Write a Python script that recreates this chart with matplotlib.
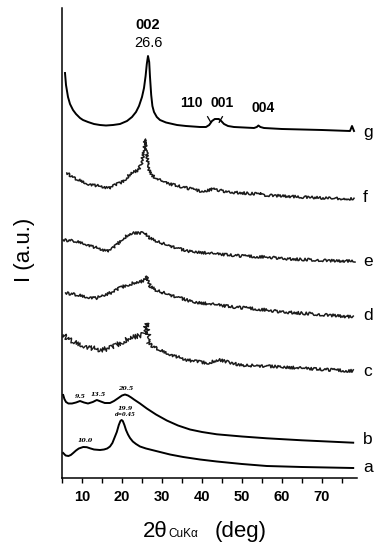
import matplotlib
matplotlib.use("Agg")
import matplotlib.pyplot as plt

# ---- data (intensity in arbitrary units) ----
BASE = 478  # conversion helper: value = BASE - pixel row

g_x = [5.75, 6.0, 6.5, 7.0, 7.75, 8.5, 9.5, 10.25, 11.5, 13, 14.5, 16, 17.75, 19.5, 21.25, 22.5,
       23.5, 24.25, 25, 25.5, 25.9, 26.2, 26.5, 26.8, 27.0, 27.3, 27.6, 28, 28.7, 29.5, 31, 33.75,
       36, 39.5, 41, 41.8, 42.5, 43.2, 44.2, 44.8, 45.5, 46.5, 48, 53, 53.7, 54.1, 54.6, 55.5,
       60, 70, 77, 77.3, 77.5, 77.7, 78]
g_y = [73, 85, 97, 104, 110, 114, 118, 120, 122, 124, 125, 125.5, 125, 124, 121, 117,
       112, 106, 97, 88, 76, 64, 56, 62, 77, 95, 106, 112, 117, 120, 122.5, 125,
       126, 127, 127, 125, 121, 119, 119, 121, 124, 126, 127, 128, 127, 125.5, 127, 128,
       129, 130, 131, 128, 126, 128, 131]

f_x = [6.2, 8, 11.7, 16.7, 20, 22.4, 24.1, 24.9, 25.4, 25.8, 26.3, 26.8, 27.5, 28.3, 31, 34, 39.5,
       42, 43, 44, 46.5, 50, 54, 54.5, 55.5, 60, 65, 70, 78]
f_y = [173, 178, 184, 188, 182, 173, 170, 163, 152, 139, 158, 170, 175, 178, 183, 186, 191,
       190, 188, 190, 192, 193, 194, 192, 195, 196, 197, 198, 199]

e_x = [5.3, 8, 10.3, 13, 16.2, 17.5, 18.7, 20, 21.6, 23, 24.5, 25.8, 26.6, 28, 31.2, 36.2, 43.7,
       50, 56.2, 62, 68.7, 74, 78.25]
e_y = [240, 241, 243, 247, 251, 249, 245, 239, 235, 233, 233, 233, 237, 240, 245, 251, 254,
       256, 257, 259, 260, 261, 261]

d_x = [5.9, 9, 11.5, 13.7, 15.5, 17.8, 19.5, 21.2, 23, 24.5, 25.6, 26.3, 27, 28.5, 31.2, 34.5,
       37.8, 42, 47.8, 54, 60.3, 68, 77.8]
d_y = [293, 295, 297, 298, 295, 292, 288, 285, 283, 282, 280, 277, 286, 290, 294, 298,
       302, 304, 307, 309, 312, 314, 317]

c_x = [5.3, 7, 8.7, 11.5, 14.5, 16, 17.8, 20, 22, 24, 24.9, 25.7, 26.2, 26.8, 27.5, 29.5, 32.5,
       36.2, 41.2, 44.5, 49.5, 55, 60.3, 68, 77.8]
c_y = [335, 340, 343, 347, 350, 349, 347, 342, 338, 336, 335, 333, 323, 343, 346, 350, 355,
       360, 363, 360, 365, 366, 367, 369, 371]

b_x = [5.3, 5.6, 6.0, 6.6, 7.5, 8.5, 9.5, 10.5, 11.5, 12.7, 13.7, 14.7, 15.7, 17, 18, 19.1, 20,
       20.75, 21.5, 22.3, 23, 24.5, 26.2, 28.5, 31.2, 34, 37, 40, 43.7, 50, 56.2, 65, 77.8]
b_y = [395, 399, 402, 403.5, 403.5, 402.5, 401, 402.5, 403.5, 402, 400, 401.5, 403, 403, 401, 398, 395.5,
       394.5, 395.5, 397.5, 399.5, 403.5, 408.5, 414.5, 420.5, 425.5, 429.5, 432, 434.3, 436.5, 438.3, 440.3, 442.7]

a_x = [5.3, 5.9, 6.6, 7.2, 7.8, 8.5, 9.2, 10.3, 11.2, 12, 13, 14.5, 15.5, 16.3, 17, 17.6, 18.1,
       18.7, 19.2, 19.6, 19.9, 20.2, 20.6, 21, 21.5, 22, 22.7, 23.5, 24.5, 26, 27.5, 29.5, 32,
       35.3, 39.5, 43.7, 50, 56.2, 65, 77.8]
a_y = [453, 455.5, 456, 455, 453, 450.5, 448.5, 447, 447.2, 448.3, 449.5, 450, 449.5, 448.5, 446.5, 443, 438,
       432, 425, 421, 420, 421, 425, 430, 434.5, 438, 441.5, 444, 446.5, 448.5, 450, 452, 454.5,
       457, 459.5, 461.5, 464, 466, 467, 468]

curve_names = ["g", "f", "e", "d", "c", "b", "a"]
label_rows = [133, 197, 261, 315, 372, 439, 468]

x_major = [10, 20, 30, 40, 50, 60, 70]
x_minor = [5, 15, 25, 35, 45, 55, 65, 75]

peak_labels = ["002", "26.6", "110", "001", "004"]
small_labels = ["9.5", "13.5", "20.5", "19.9", "d=0.45", "10.0"]

# ---- figure ----
plt.rcParams['font.family'] = ['Liberation Sans', 'DejaVu Sans']
fig = plt.figure(figsize=(3.85, 5.5), dpi=100)
ax = fig.add_axes([62/385, (550-478)/550, (357-62)/385, 470/550])

def val(rows):
    return [BASE - r for r in rows]

series = {"g": (g_x, g_y), "f": (f_x, f_y), "e": (e_x, e_y), "d": (d_x, d_y),
          "c": (c_x, c_y), "b": (b_x, b_y), "a": (a_x, a_y)}
noisy = {"f": 1.3, "e": 1.3, "d": 1.4}

for name in curve_names:
    xs, rows = series[name]
    if name in noisy:
        ln, = ax.plot(xs, val(rows), color='#1a1a1a', lw=1.1)
        ln.set_sketch_params(scale=noisy[name], length=1.4, randomness=2)
    elif name == "c":
        k = 14  # noisier below the 26 deg peak
        ln, = ax.plot(xs[:k], val(rows[:k]), color='#1a1a1a', lw=1.0)
        ln.set_sketch_params(scale=2.4, length=1.4, randomness=2)
        ln, = ax.plot(xs[k - 1:], val(rows[k - 1:]), color='#1a1a1a', lw=1.1)
        ln.set_sketch_params(scale=1.4, length=1.4, randomness=2)
    else:
        ax.plot(xs, val(rows), color='black', lw=1.4, solid_joinstyle='round')

for name, r in zip(curve_names, label_rows):
    ax.text(80.3, BASE - r, name, fontsize=12.5, ha='left', va='center', clip_on=False)

# peak annotations on g
ax.text(26.5, BASE - 25, peak_labels[0], fontsize=10.5, fontweight='bold', ha='center', va='center')
ax.text(26.5, BASE - 43, peak_labels[1], fontsize=10.5, ha='center', va='center')
ax.text(37.3, BASE - 103, peak_labels[2], fontsize=10, fontweight='bold', ha='center', va='center')
ax.text(45.0, BASE - 103, peak_labels[3], fontsize=10, fontweight='bold', ha='center', va='center')
ax.text(55.3, BASE - 108, peak_labels[4], fontsize=10, fontweight='bold', ha='center', va='center')
ax.plot([41.4, 42.2], [BASE - 116.7, BASE - 122.3], color='black', lw=0.9)
ax.plot([44.3, 45.1], [BASE - 122.3, BASE - 116.7], color='black', lw=0.9)

# small annotations on a and b
sfont = dict(family='DejaVu Serif', style='italic', fontweight='bold', ha='center', va='center')
ax.text(9.5, BASE - 396, small_labels[0], fontsize=4.5, **sfont)
ax.text(14.1, BASE - 395, small_labels[1], fontsize=4.5, **sfont)
ax.text(21.0, BASE - 389, small_labels[2], fontsize=4.5, **sfont)
ax.text(20.75, BASE - 408, small_labels[3], fontsize=4.5, **sfont)
ax.text(20.9, BASE - 414, small_labels[4], fontsize=3.8, **sfont)
ax.text(10.75, BASE - 441, small_labels[5], fontsize=4.5, **sfont)

ax.set_xlim(5, 78.75)
ax.set_ylim(0, 470)
for s in ['top', 'right']:
    ax.spines[s].set_visible(False)
ax.spines['left'].set_linewidth(1.1)
ax.spines['bottom'].set_linewidth(1.1)
ax.set_yticks([])
ax.set_xticks(x_major)
ax.set_xticks(x_minor, minor=True)
ax.tick_params(axis='x', which='both', direction='out', length=3.5, width=1.0)
ax.tick_params(axis='x', which='major', pad=5, labelsize=10.5)
for lab in ax.get_xticklabels():
    lab.set_fontweight('bold')

# axis labels
fig.text(25/385, 1 - 250/550, "I (a.u.)", rotation=90, fontsize=16, ha='center', va='center')
yb = 1 - 537/550
fig.text(143/385, yb, "2θ", fontsize=16, ha='left', va='baseline')
fig.text(168/385, yb, "CuKα", fontsize=8.5, ha='left', va='baseline')
fig.text(215/385, yb, "(deg)", fontsize=16, ha='left', va='baseline')

fig.savefig("out.png", dpi=100)
